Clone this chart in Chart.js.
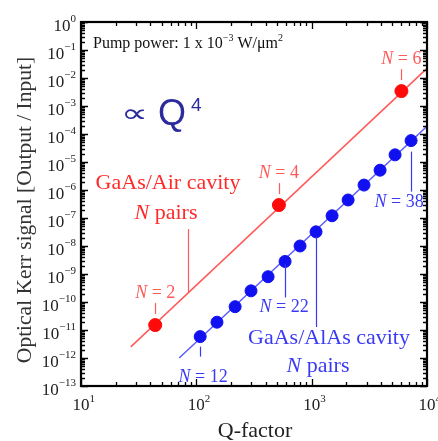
<!DOCTYPE html>
<html>
<head>
<meta charset="utf-8">
<script src="https://cdn.jsdelivr.net/npm/chart.js@4.4.0/dist/chart.umd.min.js"></script>
<style>
html, body { margin: 0; padding: 0; background: #fff; }
canvas { display: block; }
</style>
</head>
<body>
<canvas id="kerrChart" width="438" height="441"></canvas>
<script>
// --- GaAs/Air cavity, N pairs ---
const airPairs = [2, 4, 6];
const airQ = [44, 520, 6000];
const airSignal = [1.5e-11, 2.9e-7, 3.4e-3];

// --- GaAs/AlAs cavity, N pairs ---
const alasPairs = [12, 14, 16, 18, 20, 22, 24, 26, 28, 30, 32, 34, 36, 38];
const alasQ = [108, 151, 217, 298, 419, 588, 793, 1091, 1503, 2070, 2845, 3918, 5285, 7278];
const alasSignal = [5.8e-12, 1.9e-11, 6.8e-11, 2.5e-10, 8.0e-10, 2.8e-9, 1.0e-8, 3.2e-8,
                    1.2e-7, 4.4e-7, 1.5e-6, 5.1e-6, 1.8e-5, 5.8e-5];

// --- Q^4 guide lines ---
const airFitQ = [27, 10000];
const airFitSignal = [2.5e-12, 2.2e-2];
const alasFitQ = [71, 10000];
const alasFitSignal = [1.0e-12, 1.9e-4];

// --- decade tick labels (exponents) ---
const xDecades = [1, 2, 3, 4];
const yDecades = [0, -1, -2, -3, -4, -5, -6, -7, -8, -9, -10, -11, -12, -13];

const SERIF = '"Liberation Serif", "Times New Roman", serif';
const SANS = '"Liberation Sans", Arial, sans-serif';
const RED = '#ff2a2a';
const RED_LIGHT = '#ff5a5a';
const BLUE = '#1010f0';
const BLUE_TEXT = '#3a3af5';
const NAVY = '#2b2b9c';

function toPoints(xs, ys) {
    return xs.map((x, i) => ({ x: x, y: ys[i] }));
}

function minus(s) {
    return String(s).replace('-', '\u2212');
}

// draw a run of text pieces, each with its own font/colour/offset
function drawRich(ctx, parts, x, y, align) {
    let total = 0;
    parts.forEach(p => { ctx.font = p.font; p.w = ctx.measureText(p.t).width; total += p.w; });
    let cx = align === 'center' ? x - total / 2 : (align === 'right' ? x - total : x);
    ctx.textAlign = 'left';
    ctx.textBaseline = 'alphabetic';
    parts.forEach(p => {
        ctx.font = p.font;
        ctx.fillStyle = p.color || '#000';
        ctx.fillText(p.t, cx, y + (p.dy || 0));
        cx += p.w;
    });
}

function nLabel(n, size, color) {
    return [
        { t: 'N', font: 'italic ' + size + 'px ' + SERIF, color: color },
        { t: ' = ' + n, font: size + 'px ' + SERIF, color: color }
    ];
}

function vline(ctx, x, y1, y2, color) {
    ctx.save();
    ctx.strokeStyle = color;
    ctx.lineWidth = 1.2;
    ctx.beginPath();
    ctx.moveTo(Math.round(x) + 0.5, y1);
    ctx.lineTo(Math.round(x) + 0.5, y2);
    ctx.stroke();
    ctx.restore();
}

// frame, inward log ticks, tick labels, titles and annotations
const decorPlugin = {
    id: 'decor',
    afterDraw(chart) {
        const ctx = chart.ctx;
        const area = chart.chartArea;
        const xs = chart.scales.x, ys = chart.scales.y;
        ctx.save();

        // ticks
        ctx.strokeStyle = '#000';
        ctx.lineWidth = 1.3;
        ctx.beginPath();
        for (let d = 1; d <= 4; d++) {
            for (let m = 1; m <= 9; m++) {
                if (d === 4 && m > 1) break;
                const px = Math.round(xs.getPixelForValue(m * Math.pow(10, d))) + 0.5;
                const len = m === 1 ? 7 : 4;
                ctx.moveTo(px, area.bottom); ctx.lineTo(px, area.bottom - len);
                ctx.moveTo(px, area.top); ctx.lineTo(px, area.top + len);
            }
        }
        for (let d = -13; d <= 0; d++) {
            for (let m = 1; m <= 9; m++) {
                if (d === 0 && m > 1) break;
                const py = Math.round(ys.getPixelForValue(m * Math.pow(10, d))) + 0.5;
                const len = m === 1 ? 7 : 4;
                ctx.moveTo(area.left, py); ctx.lineTo(area.left + len, py);
                ctx.moveTo(area.right, py); ctx.lineTo(area.right - len, py);
            }
        }
        ctx.stroke();

        // frame
        ctx.lineWidth = 2.2;
        ctx.strokeRect(area.left, area.top, area.right - area.left, area.bottom - area.top);

        // tick labels
        yDecades.forEach(e => {
            const py = ys.getPixelForValue(Math.pow(10, e));
            drawRich(ctx, [
                { t: '10', font: '17px ' + SERIF, color: '#222', dy: 9 },
                { t: minus(e), font: '11px ' + SERIF, color: '#222', dy: 0 }
            ], area.left - 5, py, 'right');
        });
        xDecades.forEach(e => {
            const px = xs.getPixelForValue(Math.pow(10, e));
            ctx.font = '17px ' + SERIF;
            const w = ctx.measureText('10').width;
            drawRich(ctx, [
                { t: '10', font: '17px ' + SERIF, color: '#222', dy: 0 },
                { t: String(e), font: '11px ' + SERIF, color: '#222', dy: -8 }
            ], px - w / 2, area.bottom + 24, 'left');
        });

        // axis titles
        ctx.fillStyle = '#222';
        ctx.font = '22px ' + SERIF;
        ctx.textAlign = 'center';
        ctx.textBaseline = 'middle';
        ctx.fillText('Q-factor', 255, 431);
        ctx.save();
        ctx.translate(25, 210);
        ctx.rotate(-Math.PI / 2);
        ctx.font = '21.5px ' + SERIF;
        ctx.fillStyle = '#333';
        ctx.fillText('Optical Kerr signal [Output / Input]', 0, 0);
        ctx.restore();

        // pump power note
        drawRich(ctx, [
            { t: 'Pump power: 1 x 10', font: '16px ' + SERIF, color: '#111' },
            { t: '\u22123', font: '10px ' + SERIF, color: '#111', dy: -7 },
            { t: ' W/\u03bcm', font: '16px ' + SERIF, color: '#111' },
            { t: '2', font: '10px ' + SERIF, color: '#111', dy: -7 }
        ], 93, 48, 'left');

        // proportional-to-Q^4 note
        ctx.textAlign = 'left';
        ctx.textBaseline = 'alphabetic';
        ctx.fillStyle = NAVY;
        ctx.save();
        ctx.translate(121, 122);
        ctx.scale(1.45, 1.0);
        ctx.font = '26px "DejaVu Sans", sans-serif';
        ctx.fillText('\u221d', 0, 0);
        ctx.restore();
        ctx.font = '36px ' + SANS;
        ctx.fillText('Q', 158, 125);
        ctx.font = '19px ' + SANS;
        ctx.fillText('4', 191, 111);

        // cavity captions
        drawRich(ctx, [{ t: 'GaAs/Air cavity', font: '22px ' + SERIF, color: RED }], 168, 189, 'center');
        drawRich(ctx, [
            { t: 'N', font: 'italic 22px ' + SERIF, color: RED },
            { t: ' pairs', font: '22px ' + SERIF, color: RED }
        ], 166, 219, 'center');
        drawRich(ctx, [{ t: 'GaAs/AlAs cavity', font: '22px ' + SERIF, color: BLUE_TEXT }], 329, 344, 'center');
        drawRich(ctx, [
            { t: 'N', font: 'italic 22px ' + SERIF, color: BLUE_TEXT },
            { t: ' pairs', font: '22px ' + SERIF, color: BLUE_TEXT }
        ], 318, 372, 'center');

        // pointer lines from captions to the data
        vline(ctx, 188, 229, 292, RED_LIGHT);
        const p26 = alasPairs.indexOf(26);
        vline(ctx, xs.getPixelForValue(alasQ[p26]), ys.getPixelForValue(alasSignal[p26]) + 5, 327, BLUE_TEXT);

        // N labels for red points
        airPairs.forEach((n, i) => {
            const px = xs.getPixelForValue(airQ[i]);
            const py = ys.getPixelForValue(airSignal[i]);
            vline(ctx, px, py - 22, py - 11, RED_LIGHT);
            drawRich(ctx, nLabel(n, 18, RED_LIGHT), px, py - 27, 'center');
        });

        // N labels for selected blue points
        const blueLabels = [
            { n: 12, top: 10, bottom: 20, text: 45, dx: 3 },
            { n: 22, top: 3, bottom: 36, text: 51, dx: -1 },
            { n: 38, top: 11, bottom: 51, text: 66, dx: -12 }
        ];
        blueLabels.forEach(b => {
            const i = alasPairs.indexOf(b.n);
            const px = xs.getPixelForValue(alasQ[i]);
            const py = ys.getPixelForValue(alasSignal[i]);
            vline(ctx, px, py + b.top, py + b.bottom, BLUE_TEXT);
            drawRich(ctx, nLabel(b.n, 18, BLUE_TEXT), px + b.dx, py + b.text, 'center');
        });

        ctx.restore();
    }
};

const ctx = document.getElementById('kerrChart').getContext('2d');
new Chart(ctx, {
    type: 'scatter',
    data: {
        datasets: [
            {
                label: 'GaAs/Air fit',
                data: toPoints(airFitQ, airFitSignal),
                showLine: true,
                borderColor: RED_LIGHT,
                borderWidth: 1.5,
                pointRadius: 0,
                order: 3
            },
            {
                label: 'GaAs/AlAs fit',
                data: toPoints(alasFitQ, alasFitSignal),
                showLine: true,
                borderColor: '#5c5cff',
                borderWidth: 1.5,
                pointRadius: 0,
                order: 3
            },
            {
                label: 'GaAs/Air cavity',
                data: toPoints(airQ, airSignal),
                backgroundColor: '#ff0a0a',
                borderColor: '#ff0a0a',
                pointRadius: 6.5,
                order: 1
            },
            {
                label: 'GaAs/AlAs cavity',
                data: toPoints(alasQ, alasSignal),
                backgroundColor: BLUE,
                borderColor: BLUE,
                pointRadius: 6,
                order: 1
            }
        ]
    },
    options: {
        responsive: false,
        animation: false,
        layout: { padding: { left: 81, top: 22, right: 11, bottom: 55 } },
        scales: {
            x: { type: 'logarithmic', min: 10, max: 10000, display: false },
            y: { type: 'logarithmic', min: 1e-13, max: 1, display: false }
        },
        plugins: {
            legend: { display: false },
            tooltip: { enabled: false }
        }
    },
    plugins: [decorPlugin]
});
</script>
</body>
</html>
